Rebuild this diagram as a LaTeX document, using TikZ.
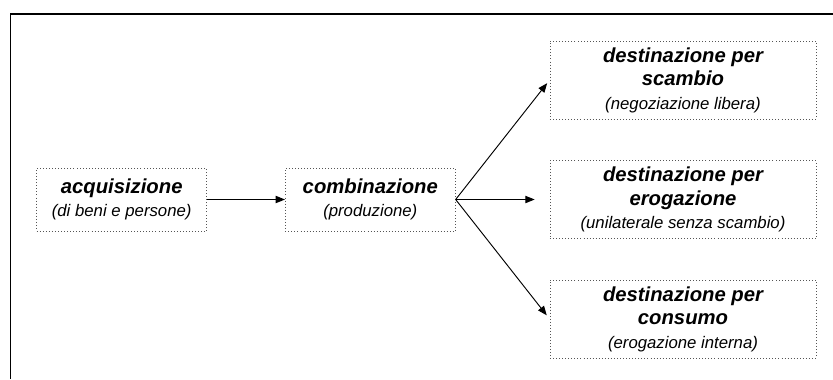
\documentclass[tikz,border=0pt]{standalone}
\usepackage{fontspec}
\setmainfont{Liberation Sans}
\usepackage{tikz}
\usetikzlibrary{arrows.meta}
\definecolor{dotgray}{HTML}{555555}
\newcommand{\titolo}[1]{{\bfseries\itshape #1}}
\newcommand{\nota}[1]{{\fontsize{14.3}{20}\selectfont\itshape #1}}

\begin{document}
\begin{tikzpicture}[x=0.03cm, y=-0.03cm,
        fase/.style={draw=dotgray, dotted, line width=0.6pt, inner sep=0pt,
            align=center, font=\fontsize{17.3}{20}\selectfont},
        freccia/.style={-{Triangle[length=0.28cm, width=0.22cm]}, line width=0.8pt}]

        \useasboundingbox (0,0) rectangle (833,379);

        % Frame (cut off at right and bottom)
        \draw[line width=0.9pt] (833,14)--(10.5,14)--(10.5,379);

        % Acquisition and production
        \node[fase, minimum width=5.1cm, minimum height=1.89cm] (acq) at (121.7,199.5)
            {\titolo{acquisizione}\\ \nota{(di beni e persone)}};
        \node[fase, minimum width=5.1cm, minimum height=1.89cm] (comb) at (370.3,199.5)
            {\titolo{combinazione}\\ \nota{(produzione)}};

        % Destinations
        \node[fase, minimum width=7.98cm, minimum height=2.34cm] (scambio) at (683,80)
            {\titolo{destinazione per}\\ \titolo{scambio}\\ \nota{(negoziazione libera)}};
        \node[fase, minimum width=7.98cm, minimum height=2.34cm] (erog) at (683,199.5)
            {\titolo{destinazione per}\\ \titolo{erogazione}\\ \nota{(unilaterale senza scambio)}};
        \node[fase, minimum width=7.98cm, minimum height=2.34cm] (consumo) at (683,319)
            {\titolo{destinazione per}\\ \titolo{consumo}\\ \nota{(erogazione interna)}};

        % Arrows
        \draw[freccia] (acq.east)--(comb.west);
        \draw[freccia, shorten >=0.12cm] (comb.east)--(scambio.west);
        \draw[freccia, shorten >=0.45cm] (comb.east)--(erog.west);
        \draw[freccia, shorten >=0.14cm] (comb.east)--(consumo.west);

\end{tikzpicture}
\end{document}
